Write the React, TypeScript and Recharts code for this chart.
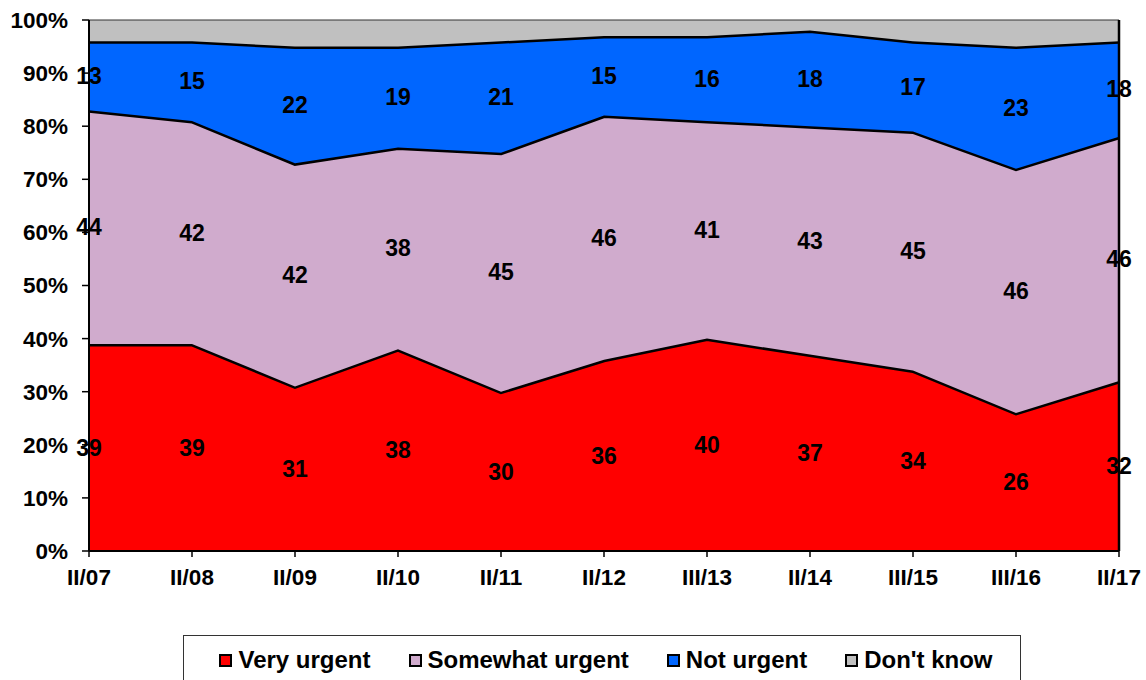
import {
  ComposedChart,
  Area,
  Line,
  LabelList,
  XAxis,
  YAxis,
  ReferenceLine
} from "recharts";

const categories = ["II/07", "II/08", "II/09", "II/10", "II/11", "II/12", "III/13", "II/14", "III/15", "III/16", "II/17"];
const veryUrgent = [39, 39, 31, 38, 30, 36, 40, 37, 34, 26, 32];
const somewhatUrgent = [44, 42, 42, 38, 45, 46, 41, 43, 45, 46, 46];
const notUrgent = [13, 15, 22, 19, 21, 15, 16, 18, 17, 23, 18];
const dontKnow = [4, 4, 5, 5, 4, 3, 3, 2, 4, 5, 4];
const yTicks = [0, 10, 20, 30, 40, 50, 60, 70, 80, 90, 100];

const seriesNames = ["Very urgent", "Somewhat urgent", "Not urgent", "Don't know"];
const seriesColors = ["#ff0000", "#d0abcd", "#0066ff", "#c0c0c0"];

// midpoints are only used to place the value labels in the middle of each band
const data = categories.map((cat, i) => ({
  cat,
  very: veryUrgent[i],
  somewhat: somewhatUrgent[i],
  notU: notUrgent[i],
  dk: dontKnow[i],
  veryMid: veryUrgent[i] / 2,
  somewhatMid: veryUrgent[i] + somewhatUrgent[i] / 2,
  notMid: veryUrgent[i] + somewhatUrgent[i] + notUrgent[i] / 2
}));

const FONT = "'Liberation Sans', Arial, Helvetica, sans-serif";

const labelStyle = {
  fill: "#000",
  fontSize: 23,
  fontWeight: "bold" as const,
  fontFamily: FONT
};

const axisTick = { fill: "#000", fontSize: 22.5, fontWeight: "bold", fontFamily: FONT };

const App = () => {
  return (
    <div style={{ position: "absolute", left: 0, top: 0, width: 1146, height: 680, background: "#fff", overflow: "hidden" }}>
      <ComposedChart
        width={1146}
        height={680}
        data={data}
        margin={{ top: 20, right: 27, bottom: 99, left: 0 }}
      >
        <XAxis
          dataKey='cat'
          height={30}
          axisLine={{ stroke: "#000", strokeWidth: 2 }}
          tickLine={{ stroke: "#000", strokeWidth: 1.5 }}
          tickSize={6}
          tickMargin={12}
          tick={axisTick}
          interval={0}
        />
        <YAxis
          width={89}
          domain={[0, 100]}
          ticks={yTicks}
          axisLine={{ stroke: "#000", strokeWidth: 2 }}
          tickLine={{ stroke: "#000", strokeWidth: 1.5 }}
          tickSize={7}
          tickMargin={14}
          tick={axisTick}
          tickFormatter={(v) => `${v}%`}
        />

        {/* next band's fill covers half of each stroke, hence the wide strokes */}
        <Area type='linear' dataKey='very' stackId='1' fill={seriesColors[0]} fillOpacity={1} stroke='#000' strokeWidth={5} isAnimationActive={false} />
        <Area type='linear' dataKey='somewhat' stackId='1' fill={seriesColors[1]} fillOpacity={1} stroke='#000' strokeWidth={5} isAnimationActive={false} />
        <Area type='linear' dataKey='notU' stackId='1' fill={seriesColors[2]} fillOpacity={1} stroke='#000' strokeWidth={5} isAnimationActive={false} />
        <Area type='linear' dataKey='dk' stackId='1' fill={seriesColors[3]} fillOpacity={1} stroke='#333' strokeWidth={1.2} isAnimationActive={false} />

        <ReferenceLine x='II/17' stroke='#000' strokeWidth={2.5} />

        {/* invisible lines carrying the value labels */}
        <Line type='linear' dataKey='veryMid' stroke='none' dot={false} activeDot={false} isAnimationActive={false}>
          <LabelList dataKey='very' position='center' {...labelStyle} />
        </Line>
        <Line type='linear' dataKey='somewhatMid' stroke='none' dot={false} activeDot={false} isAnimationActive={false}>
          <LabelList dataKey='somewhat' position='center' {...labelStyle} />
        </Line>
        <Line type='linear' dataKey='notMid' stroke='none' dot={false} activeDot={false} isAnimationActive={false}>
          <LabelList dataKey='notU' position='center' {...labelStyle} />
        </Line>
      </ComposedChart>

      {/* legend box */}
      <div
        style={{
          position: "absolute",
          left: 183,
          top: 635,
          width: 838,
          height: 60,
          border: "1px solid #333",
          boxSizing: "border-box",
          display: "flex",
          justifyContent: "center",
          alignItems: "flex-start",
          paddingTop: 11,
          paddingLeft: 8,
          gap: 38,
          fontFamily: FONT,
          fontWeight: "bold",
          fontSize: 24,
          color: "#000"
        }}
      >
        {seriesNames.map((name, i) => (
          <div key={name} style={{ display: "flex", alignItems: "center", lineHeight: "26px" }}>
            <span
              style={{
                display: "inline-block",
                width: 13,
                height: 13,
                boxSizing: "border-box",
                border: "2px solid #000",
                background: seriesColors[i],
                marginRight: 6
              }}
            />
            {name}
          </div>
        ))}
      </div>
    </div>
  );
};

export default App;
